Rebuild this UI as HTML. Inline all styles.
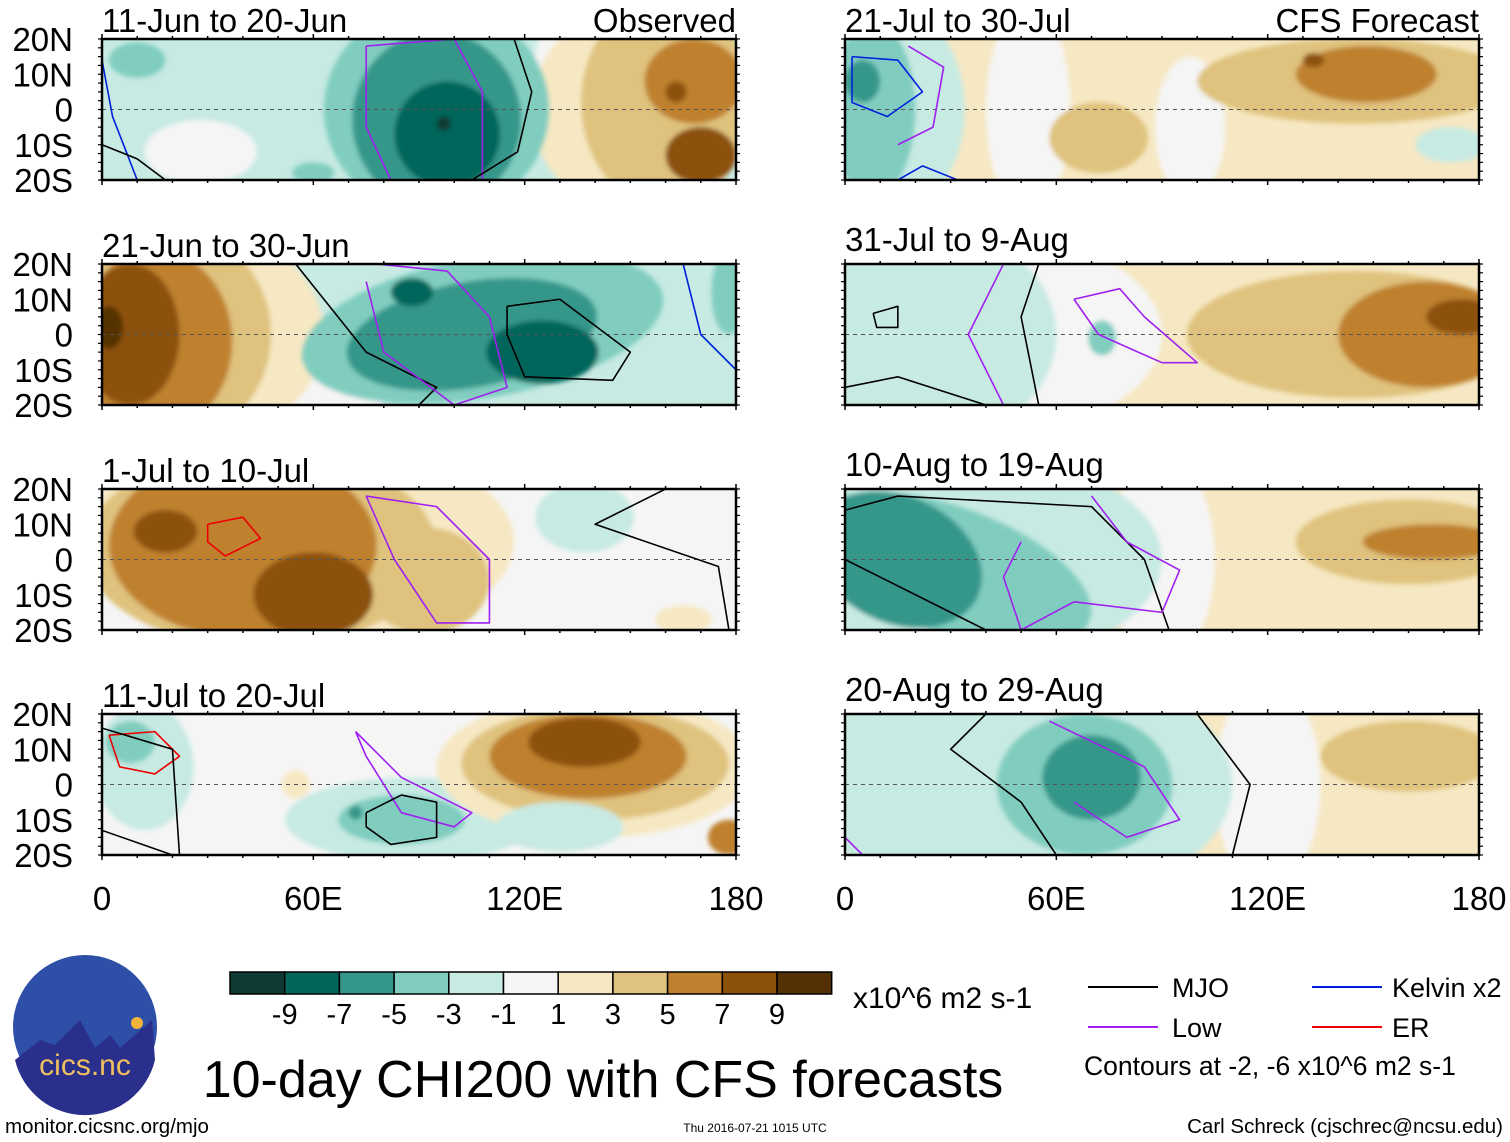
<!DOCTYPE html>
<html><head><meta charset="utf-8"><style>
html,body{margin:0;padding:0;background:#fff}
svg{display:block;font-family:"Liberation Sans",Arial,sans-serif}
</style></head><body>
<svg id="fig" width="1510" height="1142" viewBox="0 0 1510 1142" xmlns="http://www.w3.org/2000/svg">
<defs><filter id="soft" x="-5%" y="-5%" width="110%" height="110%"><feGaussianBlur stdDeviation="2.5"/></filter></defs>
<g id="panels"></g>
<g id="bottom">
 <g>
  <circle cx="85" cy="1027" r="72" fill="#2d4fa8"/>
  <path d="M15,1060 L40,1040 L55,1045 L80,1020 L95,1048 L110,1035 L120,1048 L152,1020 L155,1060 A72,72 0 0 1 15,1060Z" fill="#2a2f8c"/>
  <circle cx="137" cy="1023" r="6" fill="#f3b43a"/>
  <text x="85" y="1075" font-size="30" fill="#f0c060" text-anchor="middle">cics.nc</text>
 </g>
 <text x="5" y="1133" font-size="20.5">monitor.cicsnc.org/mjo</text>
 <g id="colorbar"></g>
 <text x="853" y="1008" font-size="30">x10^6 m2 s-1</text>
 <text x="603" y="1097" font-size="52" text-anchor="middle">10-day CHI200 with CFS forecasts</text>
 <text x="755" y="1132" font-size="12" text-anchor="middle">Thu 2016-07-21 1015 UTC</text>
 <text x="1503" y="1133" font-size="20.5" text-anchor="end">Carl Schreck (cjschrec@ncsu.edu)</text>
 <g>
  <line x1="1088" y1="987" x2="1158" y2="987" stroke="#000" stroke-width="2"/><text x="1172" y="997" font-size="27">MJO</text>
  <line x1="1312" y1="987" x2="1382" y2="987" stroke="#0022dd" stroke-width="2"/><text x="1392" y="997" font-size="27">Kelvin x2</text>
  <line x1="1088" y1="1027" x2="1158" y2="1027" stroke="#a020f0" stroke-width="2"/><text x="1172" y="1037" font-size="27">Low</text>
  <line x1="1312" y1="1027" x2="1382" y2="1027" stroke="#ee0000" stroke-width="2"/><text x="1392" y="1037" font-size="27">ER</text>
  <text x="1084" y="1075" font-size="26.5">Contours at -2, -6 x10^6 m2 s-1</text>
 </g>
</g>
<script>
const levels=[-9,-7,-5,-3,-1,0,1,3,5,7,9];
const levelColors=["#0e3b33","#03665b","#35978a","#80cdc0","#c7eae3","#f5f5f5","#f6e8c3","#dfc27d","#bf812d","#8c510a","#543005"];
const legendLabels=["-9","-7","-5","-3","-1","1","3","5","7","9"];
const latTicks=["20N","10N","0","10S","20S"];
const lonTicks=[0,60,120,180];
const lonTickLabels=["0","60E","120E","180"];
const panelTitles=["11-Jun to 20-Jun","21-Jun to 30-Jun","1-Jul to 10-Jul","11-Jul to 20-Jul","21-Jul to 30-Jul","31-Jul to 9-Aug","10-Aug to 19-Aug","20-Aug to 29-Aug"];
const panelBg=[-1,-1,0,0,1,1,1,1];
// blobs: [lon, lat, rxDeg, ryDeg, rotation, level]
const p1Blobs=[[28,-12,16,9,0,0],[10,14,8,5,0,-3],[60,-18,6,3,0,-3],[128,5,6,20,0,0],[152,0,30,30,0,1],[160,2,24,30,0,3],[168,8,14,12,0,5],[163,5,3,3,0,7],[170,-13,10,8,0,7],[95,0,32,30,0,-3],[95,-3,24,25,0,-5],[98,-7,15,15,0,-7],[97,-4,2,2,0,-9]];
const p2Blobs=[[60,-16,22,8,0,0],[28,0,35,30,0,1],[20,0,28,30,0,3],[15,-2,22,26,0,5],[8,0,14,20,0,7],[2,2,4,6,0,9],[108,2,52,20,-10,-3],[105,0,36,15,-10,-5],[88,12,6,4,0,-7],[125,-5,16,9,0,-7],[178,12,5,12,0,-3]];
const p3Blobs=[[55,5,62,30,0,1],[45,3,50,28,0,3],[92,-6,18,15,0,3],[40,4,38,26,0,5],[18,8,9,6,0,7],[60,-10,17,12,0,7],[137,12,14,10,0,-1],[165,-17,8,4,0,1]];
const p4Blobs=[[12,5,14,18,0,-1],[8,12,7,6,0,-3],[88,-10,36,12,0,-1],[85,-10,18,7,0,-3],[72,-8,2,2,0,-5],[140,5,45,20,0,1],[140,6,38,16,0,3],[138,8,28,12,0,5],[137,12,16,7,0,7],[130,-12,18,7,0,-1],[178,-15,6,5,0,5],[55,0,4,4,0,1]];
const r1Blobs=[[98,-5,10,20,0,0],[52,0,12,30,0,0],[12,0,22,30,0,-1],[8,0,12,25,0,-3],[5,8,5,6,0,-5],[72,-8,14,10,0,3],[145,8,45,12,0,3],[148,10,20,8,0,5],[133,14,3,2,0,7],[172,-10,10,5,0,-1]];
const r2Blobs=[[35,0,55,30,0,0],[25,0,35,30,0,-1],[73,-1,4,5,0,-3],[145,0,48,18,0,3],[165,0,25,15,0,5],[175,5,10,5,0,7]];
const r3Blobs=[[90,0,15,30,0,0],[35,0,55,30,0,-1],[30,-3,42,18,20,-3],[15,0,25,18,25,-5],[160,5,32,12,0,3],[167,5,20,5,0,5]];
const r4Blobs=[[120,0,15,30,0,0],[50,0,60,35,0,-1],[68,0,25,20,0,-3],[70,2,14,12,0,-5],[160,8,25,10,0,3]];
const panelBlobs=[p1Blobs,p2Blobs,p3Blobs,p4Blobs,r1Blobs,r2Blobs,r3Blobs,r4Blobs];
// contours: [colorKey, lon/lat points...]
const contourColors={m:"#000",l:"#a020f0",k:"#0022dd",e:"#ee0000"};
const p1Lines=[["l",[75,18],[100,20],[108,5],[108,-20],[82,-20],[75,-5],[75,18]],["m",[117,20],[122,5],[118,-12],[105,-20]],["k",[0,14],[3,-2],[10,-20]],["m",[0,-10],[10,-14],[18,-20]]];
const p2Lines=[["m",[55,20],[75,-5],[95,-15],[90,-20]],["l",[78,20],[98,18],[110,5],[115,-15],[100,-20],[80,-5],[75,15]],["m",[115,8],[130,10],[150,-5],[145,-13],[120,-12],[115,0],[115,8]],["k",[165,20],[170,0],[180,-10]]];
const p3Lines=[["l",[75,18],[95,15],[110,0],[110,-18],[95,-18],[83,0],[75,18]],["e",[30,10],[40,12],[45,6],[35,1],[30,5],[30,10]],["m",[160,20],[140,10],[175,-2],[178,-20]]];
const p4Lines=[["e",[2,14],[15,15],[22,8],[15,3],[5,5],[2,14]],["m",[0,16],[20,10],[22,-20]],["m",[0,-13],[20,-20]],["l",[72,15],[85,2],[105,-8],[100,-12],[85,-8],[75,8],[72,15]],["m",[75,-8],[85,-3],[95,-5],[95,-15],[82,-17],[75,-12],[75,-8]]];
const r1Lines=[["k",[2,15],[15,14],[22,5],[12,-2],[2,2],[2,15]],["l",[18,18],[28,12],[25,-5],[15,-10]],["k",[15,-20],[22,-16],[32,-20]]];
const r2Lines=[["m",[8,6],[15,8],[15,2],[9,2],[8,6]],["l",[45,20],[35,0],[45,-20]],["m",[55,20],[50,5],[55,-20]],["m",[0,-15],[15,-12],[40,-20]],["l",[65,10],[78,13],[85,5],[100,-8],[90,-8],[72,0],[65,10]]];
const r3Lines=[["m",[0,14],[15,18],[70,15],[85,0],[92,-20]],["l",[70,18],[80,5],[95,-3],[90,-15],[65,-12],[50,-20],[45,-5],[50,5]],["m",[0,0],[40,-20]]];
const r4Lines=[["m",[40,20],[30,10],[50,-5],[60,-20]],["l",[58,18],[85,5],[95,-10],[80,-15],[65,-5]],["m",[100,20],[115,0],[110,-20]],["l",[0,-15],[5,-20]]];
const panelLines=[p1Lines,p2Lines,p3Lines,p4Lines,r1Lines,r2Lines,r3Lines,r4Lines];

const NS="http://www.w3.org/2000/svg";
const colX=[102,845], rowY=[39,264,489,714], PW=634, PH=141;
function el(t,a,p){const e=document.createElementNS(NS,t);for(const k in a)e.setAttribute(k,a[k]);p.appendChild(e);return e;}
function colorOf(v){return levelColors[levels.indexOf(v)];}
const root=document.getElementById('panels');
panelTitles.forEach((title,i)=>{
  const x0=colX[i<4?0:1], y0=rowY[i%4];
  const xS=lon=>x0+lon/180*PW, yS=lat=>y0+(20-lat)/40*PH;
  const g=el('g',{},root);
  
  
  const cp=el('clipPath',{id:'cp'+i},g);
  el('rect',{x:x0,y:y0,width:PW,height:PH},cp);
  const inner=el('g',{'clip-path':'url(#cp'+i+')'},g);
  const bg=el('rect',{x:x0,y:y0,width:PW,height:PH,fill:colorOf(panelBg[i])},inner);
  
  
  const fg=el('g',{filter:'url(#soft)'},inner);
  panelBlobs[i].forEach(b=>{
    const e=el('ellipse',{cx:xS(b[0]),cy:yS(b[1]),rx:b[2]/180*PW,ry:b[3]/40*PH,transform:`rotate(${b[4]} ${xS(b[0])} ${yS(b[1])})`,fill:colorOf(b[5])},fg);
    
    
  });
  const eq=el('line',{x1:x0,x2:x0+PW,y1:yS(0),y2:yS(0),stroke:'#555','stroke-dasharray':'4,4','stroke-width':1},inner);
  
  
  panelLines[i].forEach(l=>{
    const pts=l.slice(1).map(p=>xS(p[0])+','+yS(p[1])).join(' ');
    const pl=el('polyline',{points:pts,fill:'none',stroke:contourColors[l[0]],'stroke-width':1.6,'stroke-linejoin':'round'},inner);
    
    
  });
  const fr=el('rect',{x:x0,y:y0,width:PW,height:PH,fill:'none',stroke:'#000','stroke-width':2.5},g);
  
  
  for(let lon=0;lon<=180;lon+=10){const big=lon%60==0;
    el('line',{x1:xS(lon),x2:xS(lon),y1:y0-(big?5:3),y2:y0,stroke:'#000','stroke-width':1.5},g);
    el('line',{x1:xS(lon),x2:xS(lon),y1:y0+PH,y2:y0+PH+(big?5:3),stroke:'#000','stroke-width':1.5},g);}
  for(let lat=-20;lat<=20;lat+=2.5){
    el('line',{x1:x0-4,x2:x0,y1:yS(lat),y2:yS(lat),stroke:'#000','stroke-width':1.2},g);
    el('line',{x1:x0+PW,x2:x0+PW+4,y1:yS(lat),y2:yS(lat),stroke:'#000','stroke-width':1.2},g);}
  const t=el('text',{x:x0,y:y0-(i%4==0?7:(i<4?7:13)),'font-size':33},g);t.textContent=title;
  
  
  if(i==0||i==4){const s=el('text',{x:x0+PW,y:y0-7,'font-size':33,'text-anchor':'end'},g);s.textContent=i==0?'Observed':'CFS Forecast';
    
    }
  if(i<4){latTicks.forEach((lb,k)=>{const tt=el('text',{x:73,y:y0+k*PH/4+12,'font-size':33,'text-anchor':'end'},g);tt.textContent=lb;
    
    });}
  if(i%4==3){lonTicks.forEach((lon,k)=>{const tt=el('text',{x:xS(lon),y:910,'font-size':33,'text-anchor':'middle'},g);tt.textContent=lonTickLabels[k];
    
    });}
});
const cb=document.getElementById('colorbar');
const bx0=230,bw=54.7;
levelColors.forEach((c,k)=>{
  const r=el('rect',{x:bx0+k*bw,y:972,width:bw,height:22,fill:c,stroke:'#000','stroke-width':1.5},cb);
  
  
});
legendLabels.forEach((lb,k)=>{
  const t=el('text',{x:bx0+(k+1)*bw,y:1024,'font-size':29,'text-anchor':'middle'},cb);t.textContent=lb;
  
  
});
</script>
</svg>
</body></html>
